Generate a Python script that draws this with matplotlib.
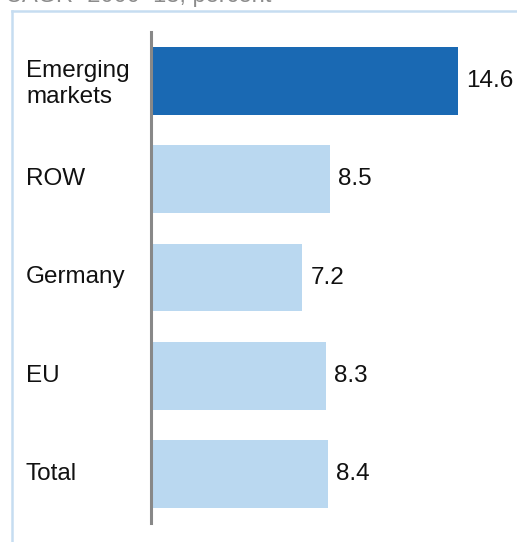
import matplotlib
matplotlib.use("Agg")
import matplotlib.pyplot as plt
from matplotlib.transforms import blended_transform_factory
from matplotlib.lines import Line2D

categories = ["Emerging\nmarkets", "ROW", "Germany", "EU", "Total"]
values = [14.6, 8.5, 7.2, 8.3, 8.4]
value_labels = ["14.6", "8.5", "7.2", "8.3", "8.4"]
colors = ["#1A69B3", "#BAD8F0", "#BAD8F0", "#BAD8F0", "#BAD8F0"]
title = "CAGR¹ 2000–13, percent"

plt.rcParams['font.family'] = ['Liberation Sans', 'DejaVu Sans']
W, H = 517, 542
fig = plt.figure(figsize=(W/100, H/100), dpi=100)

# frame lines (left and top)
fig.add_artist(Line2D([12/W, 12/W], [0, 1-11/H], color="#C6DDF1", lw=1.8))
fig.add_artist(Line2D([12/W, 1], [1-11/H, 1-11/H], color="#C6DDF1", lw=1.8))

fig.text(5/W, 1-2/H, title, fontsize=17, color="#8C8C8C", va="baseline", ha="left")

ax = fig.add_axes([151/W, 19/H, 1-151/W, (523-32)/H])
y = list(range(len(categories)))
ax.barh(y, values, height=0.69, color=colors)
ax.set_ylim(4.5, -0.5)
ax.set_xlim(0, (W-151)/21.03)
for s in ["top", "right", "bottom"]:
    ax.spines[s].set_visible(False)
ax.spines["left"].set_color("#888888")
ax.spines["left"].set_linewidth(2.2)
ax.set_xticks([])
ax.set_yticks([])

tr = blended_transform_factory(fig.transFigure, ax.transData)
for i, (c, v, lab) in enumerate(zip(categories, values, value_labels)):
    fig.text(26/W, i + (0.03 if "\n" in c else 0), c, transform=tr, fontsize=17.5,
             va="center", ha="left", color="#111111", linespacing=1.2)
    ax.annotate(lab, (v, i), xytext=(6, 0), textcoords="offset points",
                fontsize=17.5, va="center", ha="left", color="#111111")

fig.savefig("out.png", dpi=100)
